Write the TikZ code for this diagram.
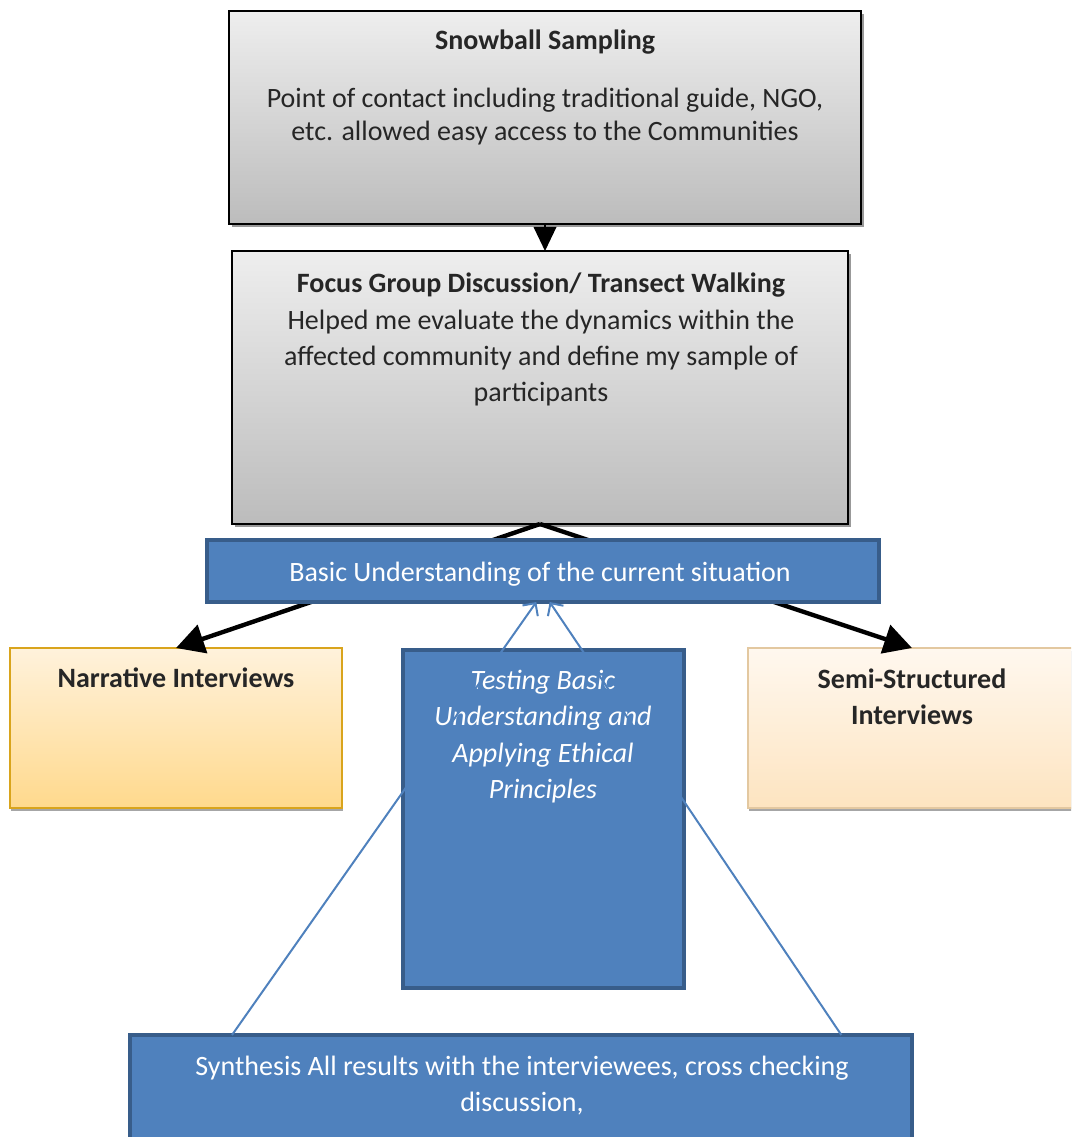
\documentclass[tikz,border=0pt]{standalone}
\usepackage{fontspec}
\setmainfont{Carlito}
\usetikzlibrary{arrows.meta,fit,shadows}

\definecolor{boxblue}{HTML}{4F81BD}
\definecolor{edgeblue}{HTML}{385D8A}
\definecolor{greytop}{HTML}{EEEEEE}
\definecolor{greybot}{HTML}{BCBCBC}
\definecolor{goldedge}{HTML}{D9A41C}
\definecolor{goldtop}{HTML}{FFF2DC}
\definecolor{goldbot}{HTML}{FFD98C}
\definecolor{tanedge}{HTML}{E3C8A0}
\definecolor{tantop}{HTML}{FFF8EF}
\definecolor{tanbot}{HTML}{FDE4C0}
\definecolor{inktext}{HTML}{262626}

\tikzset{
  area/.style={inner sep=0pt, outer sep=0pt},
  greybox/.style={area, draw=black, line width=1.5pt, top color=greytop, bottom color=greybot,
    drop shadow={shadow xshift=2pt, shadow yshift=-2.5pt, fill=black!40, opacity=1}},
  goldbox/.style={area, draw=goldedge, line width=1.5pt, top color=goldtop, bottom color=goldbot,
    drop shadow={shadow xshift=1pt, shadow yshift=-2.5pt, fill=black!35, opacity=1}},
  tanbox/.style={area, draw=tanedge, line width=1.5pt, top color=tantop, bottom color=tanbot,
    drop shadow={shadow xshift=1pt, shadow yshift=-2.5pt, fill=black!35, opacity=1}},
  bluebox/.style={area, draw=edgeblue, line width=3pt, fill=boxblue},
  headtext/.style={inner sep=0pt, text=inktext, font=\bfseries\fontsize{21}{27}\selectfont, align=center},
  bodytext/.style={inner sep=0pt, text=inktext, font=\fontsize{21}{27}\selectfont, align=center},
  whitetext/.style={inner sep=0pt, text=white, font=\fontsize{21}{27}\selectfont, align=center},
  fatarrow/.style={line width=3.3pt, -{Triangle[length=21pt,width=22pt]}},
  headonly/.style={line width=1pt, -{Triangle[length=18pt,width=17pt]}},
  thinlink/.style={draw=boxblue, line width=1.5pt, -{Straight Barb[length=7pt,width=14pt]}}
}

\begin{document}
\begin{tikzpicture}[x=0.75pt,y=-0.75pt]
  \useasboundingbox (0,0) rectangle (1071,1137);
  \clip (0,0) rectangle (1071,1137);

  % grey method boxes
  \node[greybox, fit={(229,11) (861,224)}] (snow) {};
  \node[greybox, fit={(232,251) (848,524)}] (focus) {};
  \node[headtext] (snowT) at (545,42) {Snowball Sampling};
  \node[bodytext, font=\fontsize{21}{24.75}\selectfont] (snowB) at (545,116.5)
    {Point of contact including traditional guide, NGO,\\etc. allowed easy access to the Communities};
  \node[headtext] (focusT) at (541,285) {Focus Group Discussion/ Transect Walking};
  \node[bodytext] (focusB) at (541,358)
    {Helped me evaluate the dynamics within the\\affected community and define my sample of\\participants};

  \draw[headonly] (snow.south) -- (snow.south |- focus.north);

  % branches behind the summary bar
  \node[goldbox, fit={(10,648) (342,808)}] (narr) {};
  \node[tanbox, fit={(748,648) (1076,808)}] (semi) {};
  \draw[fatarrow] (focus.south) -- (narr.north);
  \draw[fatarrow] (focus.south) -- (semi.north);

  \node[headtext] (narrT) at (176,678) {Narrative Interviews};
  \node[headtext] (semiT) at (912,697) {Semi-Structured\\Interviews};

  % summary bar
  \node[bluebox, fit={(207,540) (879,602)}] (bar) {};
  \node[whitetext] (barT) at (540,574) {Basic Understanding of the current situation};

  % testing box and synthesis box
  \node[bluebox, fit={(403,650) (684,988)}] (test) {};
  \node[whitetext, font=\itshape\fontsize{21}{27.3}\selectfont] (testT) at (543,736.5)
    {Testing Basic\\Understanding and\\Applying Ethical\\Principles};
  \node[bluebox, fit={(130,1035) (912,1160)}] (synth) {};
  \node[whitetext] (synthT) at (522,1086)
    {Synthesis All results with the interviewees, cross checking\\discussion,};

  % feedback lines
  \draw[thinlink] ([xshift=76.5pt]synth.north west) -- ([xshift=-5pt]bar.south);
  \draw[thinlink] ([xshift=-53pt]synth.north east) -- ([xshift=5pt]bar.south);
\end{tikzpicture}
\end{document}
